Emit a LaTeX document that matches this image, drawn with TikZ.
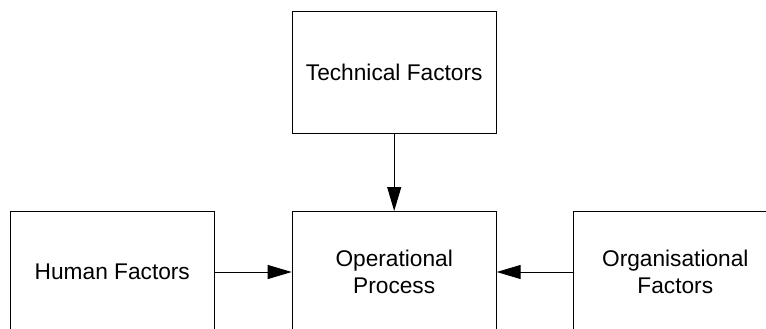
\documentclass[tikz,border=0pt]{standalone}
\usepackage{fontspec}
\setmainfont{Liberation Sans}
\usetikzlibrary{arrows.meta}
\begin{document}
\begin{tikzpicture}[x=1pt,y=-1pt,
  factorbox/.style={draw, line width=1pt, rectangle, inner sep=0pt,
    minimum width=204pt, minimum height=121pt, align=center,
    font=\fontsize{22.7}{27.6}\selectfont},
  flow/.style={draw, line width=1pt, -{Triangle[length=24pt,width=14pt]}}]
  \clip (0,0) rectangle (766,329);
  \useasboundingbox (0,0) rectangle (766,329);
  \node[factorbox] (tech) at (394.2,72.5) {Technical Factors};
  \node[factorbox] (op)   at (394.2,272)  {Operational\\Process};
  \node[factorbox] (hum)  at (112.3,272)  {Human Factors};
  \node[factorbox] (org)  at (675.3,272)  {Organisational\\Factors};
  \draw[flow] (tech) -- (op);
  \draw[flow] (hum) -- (op);
  \draw[flow] (org) -- (op);
\end{tikzpicture}
\end{document}
